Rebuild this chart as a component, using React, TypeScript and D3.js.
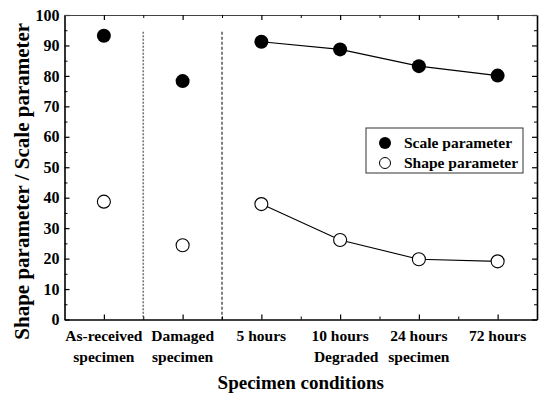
import React, { useRef, useEffect } from "react";
import * as d3 from "d3";

// categories along the x axis (two text lines each)
const categories = [
  ["As-received", "specimen"],
  ["Damaged", "specimen"],
  ["5 hours", ""],
  ["10 hours", ""],
  ["24 hours", ""],
  ["72 hours", ""],
];
const scaleParam = [93.2, 78.3, 91.2, 88.7, 83.2, 80.1];
const shapeParam = [38.7, 24.4, 37.9, 26.1, 19.8, 19.1];
// only the degraded specimens are joined by a line
const linkedFrom = 2;
const yTicks = d3.range(0, 101, 10);
const yMinor = d3.range(5, 100, 10);
const separators = [1.5, 2.5];
const separatorTop = 94.5;

const FONT = '"Liberation Serif", "DejaVu Serif", serif';

const App = () => {
  const svgRef = useRef<SVGSVGElement>(null);

  useEffect(() => {
    const svg = d3.select(svgRef.current);
    svg.selectAll("*").remove();

    const width = 542;
    const height = 393;
    const margin = { top: 15, right: 5, bottom: 73.5, left: 64.5 };

    const x = d3
      .scaleLinear()
      .domain([0.5, categories.length + 0.5])
      .range([margin.left, width - margin.right]);

    const y = d3
      .scaleLinear()
      .domain([0, 100])
      .range([height - margin.bottom, margin.top]);

    const idx = categories.map((_, i) => i + 1);
    const halves = d3.range(1.5, categories.length, 1);

    // separator lines
    svg
      .append("line")
      .attr("x1", x(separators[0]))
      .attr("x2", x(separators[0]))
      .attr("y1", y(separatorTop))
      .attr("y2", y(0))
      .attr("stroke", "#777")
      .attr("stroke-width", 1.6)
      .attr("stroke-dasharray", "2,1.5");
    svg
      .append("line")
      .attr("x1", x(separators[1]))
      .attr("x2", x(separators[1]))
      .attr("y1", y(separatorTop))
      .attr("y2", y(0))
      .attr("stroke", "#000")
      .attr("stroke-width", 1)
      .attr("stroke-dasharray", "3,2");

    // Axes (ticks point inward)
    const styleAxis = (g, w) => {
      g.select(".domain").attr("stroke", "#000").attr("stroke-width", w);
      g.selectAll(".tick line").attr("stroke", "#000").attr("stroke-width", 1.2);
    };

    const left = svg
      .append("g")
      .attr("transform", `translate(${margin.left},0)`)
      .call(d3.axisLeft(y).tickValues(yTicks).tickSizeInner(-5).tickSizeOuter(0).tickPadding(5));
    styleAxis(left, 1.6);
    left
      .selectAll("text")
      .attr("font-family", FONT)
      .attr("font-weight", "bold")
      .attr("font-size", 16)
      .attr("fill", "#000");
    left.attr("font-family", FONT);
    svg
      .append("g")
      .attr("transform", `translate(${margin.left},0)`)
      .call(d3.axisLeft(y).tickValues(yMinor).tickSize(-3).tickFormat(() => ""))
      .call((g) => g.select(".domain").remove())
      .selectAll("line")
      .attr("stroke", "#000");

    const right = svg
      .append("g")
      .attr("transform", `translate(${width - margin.right},0)`)
      .call(d3.axisRight(y).tickValues(yTicks).tickSizeInner(-5).tickSizeOuter(0).tickFormat(() => ""));
    styleAxis(right, 1.6);
    svg
      .append("g")
      .attr("transform", `translate(${width - margin.right},0)`)
      .call(d3.axisRight(y).tickValues(yMinor).tickSize(-3).tickFormat(() => ""))
      .call((g) => g.select(".domain").remove())
      .selectAll("line")
      .attr("stroke", "#000");

    const bottom = svg
      .append("g")
      .attr("transform", `translate(0,${height - margin.bottom})`)
      .call(d3.axisBottom(x).tickValues(idx).tickSizeInner(-5).tickSizeOuter(0).tickFormat(() => ""));
    styleAxis(bottom, 1.6);
    svg
      .append("g")
      .attr("transform", `translate(0,${height - margin.bottom})`)
      .call(d3.axisBottom(x).tickValues(halves).tickSize(-3).tickFormat(() => ""))
      .call((g) => g.select(".domain").remove())
      .selectAll("line")
      .attr("stroke", "#000");

    const top = svg
      .append("g")
      .attr("transform", `translate(0,${margin.top})`)
      .call(d3.axisTop(x).tickValues(idx).tickSizeInner(-5).tickSizeOuter(0).tickFormat(() => ""));
    styleAxis(top, 1.2);
    top.select(".domain").attr("stroke", "#444");
    svg
      .append("g")
      .attr("transform", `translate(0,${margin.top})`)
      .call(d3.axisTop(x).tickValues(halves).tickSize(-3).tickFormat(() => ""))
      .call((g) => g.select(".domain").remove())
      .selectAll("line")
      .attr("stroke", "#000");

    // category labels
    const labels = svg
      .append("g")
      .attr("font-family", FONT)
      .attr("font-weight", "bold")
      .attr("font-size", 15.5)
      .attr("text-anchor", "middle");
    categories.forEach((c, i) => {
      labels.append("text").attr("x", x(i + 1)).attr("y", 341).text(c[0]);
      if (c[1]) labels.append("text").attr("x", x(i + 1)).attr("y", 362).text(c[1]);
    });
    labels
      .append("text")
      .attr("x", (x(4) + x(5)) / 2 - 1)
      .attr("y", 362)
      .attr("text-anchor", "end")
      .text("Degraded");
    labels.append("text").attr("x", x(5)).attr("y", 362).text("specimen");

    // axis titles
    svg
      .append("text")
      .attr("x", (margin.left + width - margin.right) / 2)
      .attr("y", 389)
      .attr("text-anchor", "middle")
      .attr("font-family", FONT)
      .attr("font-weight", "bold")
      .attr("font-size", 19)
      .text("Specimen conditions");
    svg
      .append("text")
      .attr("transform", `translate(29,${(margin.top + height - margin.bottom) / 2 + 14}) rotate(-90)`)
      .attr("text-anchor", "middle")
      .attr("font-family", FONT)
      .attr("font-weight", "bold")
      .attr("font-size", 21)
      .text("Shape parameter / Scale parameter");

    // lines
    const line = d3
      .line<number>()
      .x((d, i) => x(i + 1 + linkedFrom))
      .y((d) => y(d));
    [scaleParam, shapeParam].forEach((s) => {
      svg
        .append("path")
        .datum(s.slice(linkedFrom))
        .attr("fill", "none")
        .attr("stroke", "#000")
        .attr("stroke-width", 1.1)
        .attr("d", line);
    });

    // markers
    svg
      .append("g")
      .selectAll("circle")
      .data(scaleParam)
      .join("circle")
      .attr("cx", (d, i) => x(i + 1))
      .attr("cy", (d) => y(d))
      .attr("r", 7)
      .attr("fill", "#000");
    svg
      .append("g")
      .selectAll("circle")
      .data(shapeParam)
      .join("circle")
      .attr("cx", (d, i) => x(i + 1))
      .attr("cy", (d) => y(d))
      .attr("r", 6.5)
      .attr("fill", "#fff")
      .attr("stroke", "#000")
      .attr("stroke-width", 1.1);

    // legend
    const legend = svg.append("g").attr("transform", "translate(366,128)");
    legend
      .append("rect")
      .attr("width", 157)
      .attr("height", 45)
      .attr("fill", "#fff")
      .attr("stroke", "#333")
      .attr("stroke-width", 1);
    legend.append("circle").attr("cx", 19).attr("cy", 15).attr("r", 6).attr("fill", "#000");
    legend
      .append("circle")
      .attr("cx", 19)
      .attr("cy", 35)
      .attr("r", 5.5)
      .attr("fill", "#fff")
      .attr("stroke", "#000")
      .attr("stroke-width", 1);
    ["Scale parameter", "Shape parameter"].forEach((t, i) => {
      legend
        .append("text")
        .attr("x", 38)
        .attr("y", 20 + i * 20)
        .attr("font-family", FONT)
        .attr("font-weight", "bold")
        .attr("font-size", 15.5)
        .text(t);
    });
  }, []);

  return (
    <svg
      ref={svgRef}
      width={542}
      height={393}
      style={{ position: "absolute", left: 0, top: 0, background: "#fff" }}
    ></svg>
  );
};

export default App;
